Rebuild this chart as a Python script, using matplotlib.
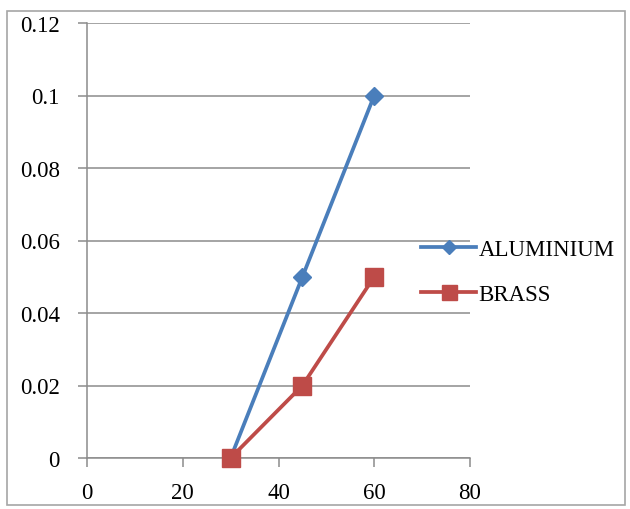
import matplotlib.pyplot as plt
from matplotlib.patches import Rectangle

# data
angle = [30, 45, 60]
aluminium = [0.0, 0.05, 0.1]
brass = [0.0, 0.02, 0.05]
x_ticks = [0, 20, 40, 60, 80]
y_ticks = [0, 0.02, 0.04, 0.06, 0.08, 0.1, 0.12]
y_labels = ["0", "0.02", "0.04", "0.06", "0.08", "0.1", "0.12"]

plt.rcParams["font.family"] = ["Liberation Serif", "DejaVu Serif"]
FS = 16.5

fig = plt.figure(figsize=(6.3, 5.1), dpi=100)
ax = fig.add_axes([87 / 630, 1 - 459 / 510, (470 - 87) / 630, (459 - 24) / 510])

# outer chart border
fig.patches.append(Rectangle((7 / 630, 4 / 510), 618 / 630, 494 / 510,
                             transform=fig.transFigure, fill=False,
                             edgecolor="#a6a6a6", linewidth=1.2))

ax.plot(angle, aluminium, color="#4a7ebb", linewidth=2.7, marker="D",
        markersize=9.5, label="ALUMINIUM", zorder=3, clip_on=False)
ax.plot(angle, brass, color="#be4b48", linewidth=2.7, marker="s",
        markersize=13.5, label="BRASS", zorder=3, clip_on=False)

ax.set_xlim(0, 80)
ax.set_ylim(0, 0.12)
ax.set_xticks(x_ticks)
ax.set_yticks(y_ticks)
ax.set_yticklabels(y_labels)
ax.yaxis.grid(True, color="#8c8c8c", linewidth=1.1)
ax.set_axisbelow(True)

for side in ("top", "right"):
    ax.spines[side].set_visible(False)
for side in ("left", "bottom"):
    ax.spines[side].set_color("#8c8c8c")
    ax.spines[side].set_linewidth(1.1)
ax.spines["bottom"].set_zorder(2.5)
ax.tick_params(axis="both", colors="#8c8c8c", length=6.5, width=1.1,
               labelsize=FS, labelcolor="black")
ax.tick_params(axis="x", pad=11)
ax.tick_params(axis="y", pad=13)

leg = ax.legend(loc="center left", bbox_to_anchor=(421 / 630, 1 - 273 / 510),
                bbox_transform=fig.transFigure, frameon=False, fontsize=FS,
                handlelength=2.4, handletextpad=0.12, labelspacing=1.05,
                borderaxespad=0, borderpad=0, markerscale=0.8)

fig.savefig("out.png", dpi=100)
